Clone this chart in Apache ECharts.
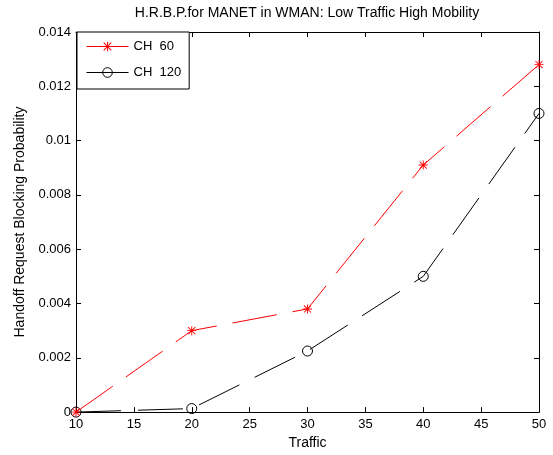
<!DOCTYPE html>
<html>
<head>
<meta charset="utf-8">
<script src="https://cdn.jsdelivr.net/npm/echarts@6/dist/echarts.min.js"></script>
<style>
  html, body { margin: 0; padding: 0; background: #fff; }
  #chart { width: 553px; height: 455px; }
</style>
</head>
<body>
<div id="chart"></div>
<script>
// Offered traffic (x) and blocking probabilities per channel count
const traffic = [10, 20, 30, 40, 50];
const ch60 = [0, 0.0030, 0.0038, 0.0091, 0.0128];
const ch120 = [0, 0.00013, 0.00225, 0.0050, 0.0110];
const yTickLabels = ['0', '0.002', '0.004', '0.006', '0.008', '0.01', '0.012', '0.014'];
const xTickLabels = ['10', '15', '20', '25', '30', '35', '40', '45', '50'];

const FONT = 'Liberation Sans, Arial, sans-serif';

// Asterisk marker: vertical, horizontal and two diagonal bars
const asterisk = 'path://M4.5 0 H5.5 V10 H4.5 Z M0 4.5 H10 V5.5 H0 Z ' +
  'M0.7 1.4 L1.4 0.7 L9.3 8.6 L8.6 9.3 Z M8.6 0.7 L9.3 1.4 L1.4 9.3 L0.7 8.6 Z';

const pair = (xs, ys) => xs.map((x, i) => [x, ys[i]]);

const tickInside = { show: true, inside: true, length: 5, lineStyle: { color: '#000', width: 1 } };
const axisLine = { show: true, onZero: false, lineStyle: { color: '#000', width: 1 } };

const chart = echarts.init(document.getElementById('chart'), null, { renderer: 'canvas' });
chart.setOption({
  animation: false,
  backgroundColor: '#fff',
  title: {
    text: 'H.R.B.P.for MANET in WMAN: Low Traffic High Mobility',
    left: 307, top: 6, textAlign: 'center', padding: 0,
    textStyle: { fontFamily: FONT, fontSize: 14, fontWeight: 'normal', color: '#000' }
  },
  grid: { left: 76, right: 14, top: 32, bottom: 37, containLabel: false },
  legend: {
    orient: 'vertical', left: 77, top: 32,
    padding: [8, 8, 10, 9], itemGap: 13, itemWidth: 42, itemHeight: 12,
    borderColor: '#000', borderWidth: 1, backgroundColor: '#fff',
    lineStyle: { type: 'solid', width: 1 },
    itemStyle: { borderWidth: 1 },
    textStyle: { fontFamily: FONT, fontSize: 13, color: '#000' },
    data: ['CH  60', 'CH  120']
  },
  xAxis: [{
    type: 'value', min: 10, max: 50, interval: 5,
    name: 'Traffic', nameLocation: 'middle', nameGap: 23,
    nameTextStyle: { fontFamily: FONT, fontSize: 14, color: '#000' },
    axisLine, axisTick: tickInside, splitLine: { show: false },
    axisLabel: {
      fontFamily: FONT, fontSize: 13, color: '#000', margin: 6,
      formatter: v => xTickLabels[Math.round((v - 10) / 5)]
    }
  }, {
    type: 'value', position: 'top', min: 10, max: 50, interval: 5,
    axisLine, axisTick: tickInside, axisLabel: { show: false }, splitLine: { show: false }
  }],
  yAxis: [{
    type: 'value', min: 0, max: 0.014, interval: 0.002,
    name: 'Handoff Request Blocking Probability', nameLocation: 'middle', nameGap: 49,
    nameTextStyle: { fontFamily: FONT, fontSize: 14, color: '#000' },
    axisLine, axisTick: tickInside, splitLine: { show: false },
    axisLabel: {
      fontFamily: FONT, fontSize: 13, color: '#000', margin: 5,
      formatter: v => yTickLabels[Math.round(v / 0.002)]
    }
  }, {
    type: 'value', position: 'right', min: 0, max: 0.014, interval: 0.002,
    axisLine, axisTick: tickInside, axisLabel: { show: false }, splitLine: { show: false }
  }],
  series: [{
    name: 'CH  60', type: 'line', xAxisIndex: 0, yAxisIndex: 0,
    data: pair(traffic, ch60),
    symbol: asterisk, symbolSize: 9, showAllSymbol: true,
    itemStyle: { color: '#ff0000' },
    lineStyle: { color: '#ff0000', width: 1, type: [45, 16] },
    z: 3
  }, {
    name: 'CH  120', type: 'line', xAxisIndex: 0, yAxisIndex: 0,
    data: pair(traffic, ch120),
    symbol: 'circle', symbolSize: 10, showAllSymbol: true,
    itemStyle: { color: 'rgba(255,255,255,0)', borderColor: '#000', borderWidth: 1 },
    lineStyle: { color: '#000', width: 1, type: [45, 17] },
    z: 2
  }]
});
</script>
</body>
</html>
